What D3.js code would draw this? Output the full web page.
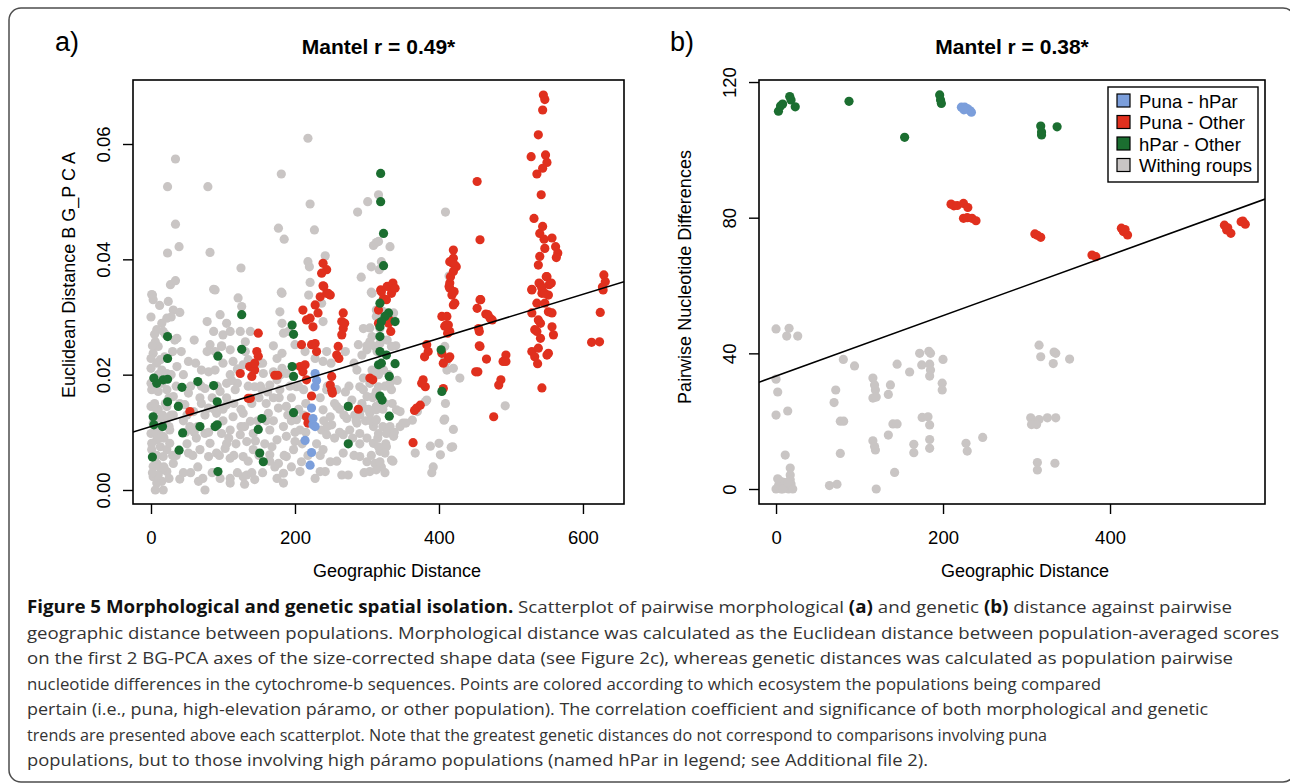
<!DOCTYPE html>
<html>
<head>
<meta charset="utf-8">
<script src="https://cdn.jsdelivr.net/npm/d3@7"></script>
<style>
  body { margin: 0; background: #fff; }
  svg text { font-family: "Liberation Sans", Arial, Helvetica, sans-serif; fill: #000; }
  .caption text { font-family: "Open Sans", sans-serif; font-size: 17px; fill: #333; }
</style>
</head>
<body>
<svg id="fig" width="1290" height="784"></svg>
<script>
// ************************************
// Data
// ************************************

// panel a: [geographic distance, euclidean distance BG-PCA]
let grayA = [
  [2,0.0338],[24,0.0327],[31,0.0312],[40,0.0308],[121,0.0333],[126,0.0318],[182,0.0341],[219,0.0338],[237,0.0324],[307,0.0341],[89,0.0347],
  [15,0.0289],[22,0.0298],[8,0.0278],[17,0.0275],[33,0.0260],[78,0.0292],[96,0.0304],[105,0.0289],[87,0.0275],[100,0.0269],[110,0.0275],
  [124,0.0275],[138,0.0275],[131,0.0257],[182,0.0289],[184,0.0272],[191,0.0275],[179,0.0309],[239,0.0292],[304,0.0281],[313,0.0301],[307,0.0266],
  [3,0.0237],[10,0.0249],[6,0.0257],[36,0.0263],[82,0.0252],[89,0.0240],[98,0.0249],[110,0.0243],[131,0.0240],[114,0.0223],[175,0.0228],
  [182,0.0237],[200,0.0252],[214,0.0240],[228,0.0228],[244,0.0240],[288,0.0252],[293,0.0234],[304,0.0257],[300,0.0243],[311,0.0249],
  [0,0.0211],[15,0.0208],[22,0.0202],[36,0.0214],[52,0.0223],[70,0.0208],[80,0.0205],[89,0.0208],[110,0.0200],[128,0.0217],[135,0.0226],
  [142,0.0208],[151,0.0220],[156,0.0202],[170,0.0205],[182,0.0211],[188,0.0202],[175,0.0191],[239,0.0223],[286,0.0208],[295,0.0194],[307,0.0208],[316,0.0200],
  [1,0.0174],[10,0.0171],[22,0.0174],[31,0.0162],[52,0.0168],[75,0.0176],[96,0.0171],[105,0.0185],[117,0.0174],[144,0.0179],[154,0.0174],
  [165,0.0182],[179,0.0174],[202,0.0179],[212,0.0174],[244,0.0174],[258,0.0174],[295,0.0174],[304,0.0185],[290,0.0179],[313,0.0171],[300,0.0162],[279,0.0156],[309,0.0162],
  [0,0.0145],[8,0.0139],[22,0.0145],[31,0.0130],[47,0.0148],[59,0.0136],[70,0.0150],[80,0.0142],[91,0.0133],[105,0.0148],[114,0.0127],[128,0.0133],
  [138,0.0119],[163,0.0133],[177,0.0142],[188,0.0145],[202,0.0122],[212,0.0130],[239,0.0139],[249,0.0127],[258,0.0145],[272,0.0124],[290,0.0130],[304,0.0133],[313,0.0145],[295,0.0142],
  [0,0.0098],[8,0.0087],[17,0.0093],[26,0.0104],[54,0.0110],[63,0.0090],[75,0.0098],[82,0.0081],[98,0.0098],[110,0.0104],[124,0.0096],[133,0.0084],
  [142,0.0098],[165,0.0104],[175,0.0087],[184,0.0110],[188,0.0093],[200,0.0084],[207,0.0104],[237,0.0104],[244,0.0096],[251,0.0113],[267,0.0096],
  [276,0.0104],[290,0.0098],[300,0.0090],[309,0.0110],[286,0.0116],[309,0.0081],
  [1,0.0070],[8,0.0046],[17,0.0058],[31,0.0046],[52,0.0064],[68,0.0070],[80,0.0058],[91,0.0064],[103,0.0072],[110,0.0055],[128,0.0058],[142,0.0070],
  [165,0.0061],[177,0.0046],[188,0.0058],[198,0.0070],[209,0.0049],[239,0.0070],[249,0.0049],[267,0.0064],[290,0.0058],[300,0.0049],[311,0.0046],[318,0.0067],
  [3,0.0023],[8,0.0012],[15,0.0015],[22,0.0032],[40,0.0019],[66,0.0015],[75,0.0000],[96,0.0020],[110,0.0012],[128,0.0023],[133,0.0026],[144,0.0018],
  [184,0.0029],[184,0.0012],[207,0.0032],[228,0.0020],[235,0.0032],[242,0.0032],[265,0.0026],[274,0.0026],[304,0.0032],
  [3,0.0116],[10,0.0104],[1,0.0081],[13,0.0075],[6,0.0058],[15,0.0035],[3,0.0041],[10,0.0026],[17,0.0000],[6,0.0000],[22,0.0070],[26,0.0081],
  [0,0.0185],[6,0.0191],[15,0.0185],[19,0.0231],[13,0.0226],[0,0.0228],[26,0.0127],[13,0.0124],
  [115,0.0150],[120,0.0185],[125,0.0110],[140,0.0150],[145,0.0085],[150,0.0160],[160,0.0120],[160,0.0150],[168,0.0075],[170,0.0160],[195,0.0120],
  [195,0.0160],[205,0.0140],[215,0.0100],[218,0.0060],[230,0.0080],[235,0.0160],[245,0.0110],[255,0.0090],[262,0.0140],[270,0.0170],[280,0.0090],
  [283,0.0130],[290,0.0080],[298,0.0120],[302,0.0140],[306,0.0060],[312,0.0120],[315,0.0090],[318,0.0150],[320,0.0040],[322,0.0110],[325,0.0180],
  [60,0.0100],[45,0.0120],[50,0.0080],[35,0.0060],[40,0.0150],[70,0.0180],[85,0.0160],[90,0.0110],[100,0.0140],[105,0.0080],[115,0.0060],[65,0.0040],
  [55,0.0030],[120,0.0030],[135,0.0050],[155,0.0030],[165,0.0050],[175,0.0020],[195,0.0040],[200,0.0100],[100,0.0220],[120,0.0210],[60,0.0260],
  [45,0.0200],[30,0.0240],[25,0.0110],[10,0.0140],[5,0.0060],[12,0.0040],[18,0.0090],[28,0.0130],[3,0.0190],[20,0.0150],[10,0.0200],[7,0.0100],
  [0,0.0300],[5,0.0270],[12,0.0320],[2,0.0250],[8,0.0220],[15,0.0190],[20,0.0120],[25,0.0160],[28,0.0200],[5,0.0150],[12,0.0090],[18,0.0040],
  [25,0.0020],[30,0.0060],[2,0.0030],[8,0.0060],[20,0.0270],[28,0.0300],[3,0.0330],[16,0.0130],
  [45,0.0030],[50,0.0130],[55,0.0180],[62,0.0220],[65,0.0110],[72,0.0020],[75,0.0130],[80,0.0100],[85,0.0030],[92,0.0180],[95,0.0060],[100,0.0120],
  [58,0.0060],[78,0.0240],[68,0.0160],[48,0.0100],[88,0.0140],[98,0.0250],[42,0.0240],[35,0.0180],
  [105,0.0160],[112,0.0190],[118,0.0080],[125,0.0140],[130,0.0110],[135,0.0180],[148,0.0120],[152,0.0180],[158,0.0080],[162,0.0170],[170,0.0120],
  [172,0.0040],[178,0.0160],[185,0.0060],[190,0.0130],[193,0.0180],[110,0.0020],[130,0.0010],[150,0.0060],[180,0.0200],[140,0.0030],[155,0.0220],
  [170,0.0250],[108,0.0090],
  [205,0.0180],[210,0.0080],[215,0.0150],[235,0.0060],[240,0.0120],[245,0.0180],[255,0.0150],[258,0.0050],[262,0.0100],[268,0.0130],[275,0.0180],
  [282,0.0060],[285,0.0120],[293,0.0150],[296,0.0030],[305,0.0120],[308,0.0160],[310,0.0200],[314,0.0240],[318,0.0280],[322,0.0140],[326,0.0080],
  [330,0.0200],[335,0.0150],[338,0.0100],[340,0.0250],[300,0.0250],[295,0.0280],[282,0.0220],[270,0.0240],[250,0.0220],[322,0.0310],[328,0.0260],
  [336,0.0050],[342,0.0190],
  [313,0.0312],[337,0.0307],[318,0.0254],[334,0.0249],[313,0.0202],[323,0.0208],[332,0.0185],[334,0.0174],[316,0.0179],[325,0.0150],[313,0.0139],
  [341,0.0139],[350,0.0116],[346,0.0110],[332,0.0110],[316,0.0098],[327,0.0098],[337,0.0093],[316,0.0075],[327,0.0075],[325,0.0064],[334,0.0052],
  [318,0.0049],[325,0.0030],[313,0.0035],[313,0.0122],
  [218,0.0610],[34,0.0574],[23,0.0526],[79,0.0526],[181,0.0548],[221,0.0496],[34,0.0461],[177,0.0454],[185,0.0435],[227,0.0451],[23,0.0411],
  [39,0.0422],[82,0.0412],[125,0.0385],[27,0.0356],[34,0.0363],[87,0.0348],[1,0.0339],[181,0.0343],[218,0.0396],[220,0.0387],[221,0.0360],
  [242,0.0406],[287,0.0482],[301,0.0500],[309,0.0424],[313,0.0429],[306,0.0387],[292,0.0369],[306,0.0343],[316,0.0512],[409,0.0482],[316,0.0431],
  [332,0.0422],[320,0.0396],[317,0.0382],[414,0.0371],
  [408,0.0249],[408,0.0226],[411,0.0208],[420,0.0211],[429,0.0194],[383,0.0156],[370,0.0136],[409,0.0150],[408,0.0123],[420,0.0105],[492,0.0146],
  [388,0.0076],[400,0.0081],[417,0.0074],[402,0.0061],[367,0.0064],[392,0.0040],[390,0.0030],[419,0.0075],[407,0.0121],[410,0.0222],
  [369,0.0139],[381,0.0153],[363,0.0121],[354,0.0116],[346,0.0136]
];
let redA = [
  [149,0.0272],[147,0.0240],[149,0.0232],[137,0.0214],[144,0.0208],[140,0.0197],[124,0.0202],[135,0.0159],[172,0.0199],[176,0.0199],[54,0.0136],
  [209,0.0252],[211,0.0312],[216,0.0295],[228,0.0321],[232,0.0307],[225,0.0283],[221,0.0298],[235,0.0335],[244,0.0341],[249,0.0338],[240,0.0353],
  [228,0.0254],[230,0.0240],[223,0.0252],[207,0.0214],[211,0.0205],[216,0.0191],[214,0.0217],[223,0.0163],[216,0.0127],[218,0.0116],
  [267,0.0307],[265,0.0292],[267,0.0280],[265,0.0269],[269,0.0289],[260,0.0249],[258,0.0234],[261,0.0228],[251,0.0197],[249,0.0182],[251,0.0173],
  [252,0.0168],[288,0.0140],[304,0.0194],[308,0.0191],[316,0.0312],[316,0.0289],[144,0.0220],[138,0.0159],
  [239,0.0393],[244,0.0382],[237,0.0376],[239,0.0354],[246,0.0341],
  [319,0.0347],[328,0.0353],[334,0.0341],[323,0.0332],[331,0.0295],[333,0.0275],[320,0.0344],[327,0.0330],[330,0.0289],[336,0.0359],[339,0.0350],
  [418,0.0338],[420,0.0321],[404,0.0301],[411,0.0301],[408,0.0284],[413,0.0286],[415,0.0275],[383,0.0252],[385,0.0240],[380,0.0231],[413,0.0228],
  [406,0.0220],[378,0.0191],[381,0.0179],[376,0.0185],[374,0.0147],[369,0.0142],[366,0.0138],[364,0.0082],[406,0.0176],[458,0.0330],[453,0.0315],
  [465,0.0305],[471,0.0298],[474,0.0295],[455,0.0280],[456,0.0275],[456,0.0250],[466,0.0227],[454,0.0205],[493,0.0234],[489,0.0223],[493,0.0223],
  [486,0.0191],[483,0.0182],[476,0.0127],[543,0.0177],
  [529,0.0347],[543,0.0341],[552,0.0338],[536,0.0324],[547,0.0324],[529,0.0307],[538,0.0295],[541,0.0289],[552,0.0309],[557,0.0307],[536,0.0275],
  [533,0.0278],[541,0.0263],[557,0.0283],[559,0.0269],[529,0.0240],[538,0.0246],[533,0.0231],[537,0.0219],[552,0.0237],[550,0.0234],
  [624,0.0308],[612,0.0256],[623,0.0257],[628,0.0347],
  [415,0.0231],[410,0.0286],[412,0.0272],[404,0.0237],[415,0.0350],[422,0.0324],[415,0.0359],[457,0.0330],[468,0.0304],[457,0.0249],[451,0.0205],
  [453,0.0535],[457,0.0434],[420,0.0416],[420,0.0402],[419,0.0393],[424,0.0387],[416,0.0370],[415,0.0396],[422,0.0390],[420,0.0379],[414,0.0353],[421,0.0344],
  [545,0.0685],[547,0.0677],[544,0.0659],[538,0.0616],[528,0.0578],[548,0.0581],[550,0.0568],[544,0.0558],[536,0.0548],[542,0.0512],[532,0.0471],
  [544,0.0457],[540,0.0445],[546,0.0435],[547,0.0419],[557,0.0437],[562,0.0422],[565,0.0411],[563,0.0403],[540,0.0405],[538,0.0390],[550,0.0370],
  [541,0.0356],[553,0.0356],[539,0.0359],[543,0.0350],[549,0.0370],[556,0.0359],[529,0.0348],[547,0.0341],
  [629,0.0373],[631,0.0361],[627,0.0352]
];
let greenA = [
  [319,0.0549],[319,0.0500],[323,0.0445],[323,0.0389],
  [318,0.0324],[330,0.0307],[325,0.0301],[320,0.0292],[318,0.0283],[339,0.0292],[318,0.0266],[318,0.0240],[327,0.0234],[316,0.0217],[320,0.0220],
  [339,0.0219],[331,0.0197],[318,0.0163],[321,0.0156],[331,0.0128],[403,0.0243],[404,0.0171],
  [126,0.0304],[23,0.0266],[126,0.0244],[23,0.0228],[93,0.0232],[196,0.0286],[198,0.0270],[196,0.0214],[198,0.0197],[4,0.0194],[17,0.0191],
  [23,0.0192],[8,0.0185],[43,0.0178],[65,0.0188],[87,0.0181],[23,0.0153],[38,0.0145],[92,0.0153],[3,0.0127],[4,0.0113],[16,0.0110],[44,0.0099],
  [68,0.0110],[89,0.0110],[92,0.0113],[154,0.0124],[149,0.0105],[198,0.0134],[39,0.0069],[2,0.0057],[151,0.0064],[156,0.0049],[93,0.0032],
  [274,0.0145],[274,0.0080]
];
let blueA = [
  [228,0.0202],[230,0.0190],[228,0.0179],[223,0.0142],[225,0.0124],[225,0.0113],[228,0.0110],[214,0.0086],[223,0.0065],[221,0.0043]
];

// panel b: [geographic distance, pairwise nucleotide differences]
let grayB = [
  [0,47.2],[15.6,47.4],[12.8,45.1],[26,45.1],[0,32.4],[2,28.6],[0,21.8],[14,23],[11,10],[17,6.2],[17,4.1],[17,2.7],
  [0,0],[3,1],[6,0],[9,2],[12,0.5],[15,0],[18,1.5],[20,0],[4,2.5],[8,0],[2,3],[14,2],
  [64,1],[73,1.4],[120,0],[80.6,38.2],[94,36.3],[71.5,29.2],[69.5,25.5],[77,20],[81,20],[77,10.5],
  [116,32.7],[118,30.7],[119,29.2],[116,26.8],[120,27.1],[137,30.7],[134.5,27.9],[145,36.8],[160,34.5],[172,40],[185,40],[183,40.6],
  [174.5,36.6],[184,36.8],[185,35.1],[184,33.3],[200,38.2],[199,31.2],[199,29.2],[140,19.2],[145,19.2],[134.5,15.9],[116,14.2],[118,12.5],
  [119,11.5],[142,4.9],[175,21.1],[182,21.3],[184,18.9],[184,14.6],[184,12],[165,13.2],[165,10.7],[227.5,13.5],[229,11.2],[247.5,15.2],
  [315,42.4],[317,39],[333,40.4],[335,40],[332,37],[351.6,38.3],[305,21],[310,19.5],[315,20.5],[312,19],[306,19],[325,21],[335,21],
  [313,7.8],[313,5.6],[334,7.6]
];
let redB = [
  [209.6,84],[213,83.5],[217,83.6],[224.5,84.2],[229.7,83],[224.5,79.8],[229,80],[234.7,79.8],[239.5,79.1],[310,75.2],[313,74.8],[317,74.2],
  [378.4,69],[383,68.5],[413.6,76.9],[416,75.9],[421,74.9],[418,76.5],[537,77.8],[539.7,76.4],[544.7,75.4],[541,77],[557,78.8],[562,78.1],[559,79]
];
let greenB = [
  [2.9,111.4],[5.4,112.9],[7.9,113.5],[16.4,115.7],[18,114.7],[23,112.7],[87.4,114.3],[154,103.7],[196,116.2],[197,114.7],[198,113.7],
  [317,107],[318,105.3],[318,104.4],[336.6,106.8]
];
let blueB = [
  [222,112.6],[226,112.6],[229,112.2],[232,111.6],[234,111.1],[225,111.8]
];

// fitted lines [intercept, slope]
let fitA = [0.01101, 0.0000382];
let fitB = [33.3, 0.0891];

let xTicksA = [0, 200, 400, 600],
  yTicksA = [0, 0.02, 0.04, 0.06],
  xTicksB = [0, 200, 400],
  yTicksB = [0, 40, 80, 120];

let legendLabels = ["Puna - hPar", "Puna - Other", "hPar - Other", "Withing roups"];

let captionLines = [
  [["b", "Figure 5 Morphological and genetic spatial isolation."], ["n", " Scatterplot of pairwise morphological "], ["b", "(a)"], ["n", " and genetic "], ["b", "(b)"], ["n", " distance against pairwise"]],
  [["n", "geographic distance between populations. Morphological distance was calculated as the Euclidean distance between population-averaged scores"]],
  [["n", "on the first 2 BG-PCA axes of the size-corrected shape data (see Figure 2c), whereas genetic distances was calculated as population pairwise"]],
  [["n", "nucleotide differences in the cytochrome-b sequences. Points are colored according to which ecosystem the populations being compared"]],
  [["n", "pertain (i.e., puna, high-elevation p\u00e1ramo, or other population). The correlation coefficient and significance of both morphological and genetic"]],
  [["n", "trends are presented above each scatterplot. Note that the greatest genetic distances do not correspond to comparisons involving puna"]],
  [["n", "populations, but to those involving high p\u00e1ramo populations (named hPar in legend; see Additional file 2)."]]
];
// right end of each caption line in the figure
let captionEnds = [1232, 1279, 1233, 1101, 1208, 1047, 928];

let colors = {gray: "#c9c5c4", red: "#e0301e", green: "#1b6e30", blue: "#7b9edb"};

// ************************************
// Drawing
// ************************************

let svg = d3.select("#fig");

// outer rounded frame
svg.append("rect")
  .attr("x", 9).attr("y", 8)
  .attr("width", 1286).attr("height", 774)
  .attr("rx", 12)
  .attr("fill", "none")
  .attr("stroke", "#4d4d4d")
  .attr("stroke-width", 1.5);

drawPanel({
  id: "a", letter: "a)", letterX: 55, title: "Mantel r = 0.49*",
  left: 133, right: 624, top: 80, bottom: 504,
  xDomain: [-25, 657], yDomain: [-0.00243, 0.0711],
  xTicks: xTicksA, yTicks: yTicksA, yFormat: d3.format(".2f"),
  xLabelX: 397, yLabel: "Euclidean Distance B G_P C A", yLabelX: 75, yLabelY: 275,
  series: [[grayA, colors.gray], [redA, colors.red], [greenA, colors.green], [blueA, colors.blue]],
  fit: fitA
});

drawPanel({
  id: "b", letter: "b)", letterX: 670, title: "Mantel r = 0.38*",
  left: 759, right: 1265, top: 80, bottom: 504,
  xDomain: [-20.4, 585.6], yDomain: [-4.42, 120.6],
  xTicks: xTicksB, yTicks: yTicksB, yFormat: d3.format("d"),
  xLabelX: 1025, yLabel: "Pairwise Nucleotide Differences", yLabelX: 691, yLabelY: 277,
  series: [[grayB, colors.gray], [redB, colors.red], [greenB, colors.green], [blueB, colors.blue]],
  fit: fitB
});

drawLegend();
drawCaption();

function drawPanel(cfg) {
  let x = d3.scaleLinear().domain(cfg.xDomain).range([cfg.left, cfg.right]);
  let y = d3.scaleLinear().domain(cfg.yDomain).range([cfg.bottom, cfg.top]);
  let g = svg.append("g").attr("class", "panel-" + cfg.id);

  // clip to plot region, like R does
  svg.append("clipPath").attr("id", "clip-" + cfg.id)
    .append("rect")
    .attr("x", cfg.left).attr("y", cfg.top)
    .attr("width", cfg.right - cfg.left).attr("height", cfg.bottom - cfg.top);

  let plot = g.append("g").attr("clip-path", "url(#clip-" + cfg.id + ")");

  cfg.series.forEach(function(s) {
    plot.append("g").selectAll("circle")
      .data(s[0])
      .enter()
      .append("circle")
      .attr("cx", function(d) { return x(d[0]); })
      .attr("cy", function(d) { return y(d[1]); })
      .attr("r", 4.6)
      .attr("fill", s[1]);
  });

  // regression line
  let x0 = cfg.xDomain[0], x1 = cfg.xDomain[1];
  plot.append("line")
    .attr("x1", x(x0)).attr("y1", y(cfg.fit[0] + cfg.fit[1] * x0))
    .attr("x2", x(x1)).attr("y2", y(cfg.fit[0] + cfg.fit[1] * x1))
    .attr("stroke", "#000")
    .attr("stroke-width", 1.6);

  // box
  g.append("rect")
    .attr("x", cfg.left).attr("y", cfg.top)
    .attr("width", cfg.right - cfg.left).attr("height", cfg.bottom - cfg.top)
    .attr("fill", "none")
    .attr("stroke", "#000")
    .attr("stroke-width", 1.6);

  // x axis
  let xAxis = g.append("g")
    .attr("transform", "translate(0," + cfg.bottom + ")")
    .call(d3.axisBottom(x).tickValues(cfg.xTicks).tickSize(10).tickFormat(d3.format("d")));
  xAxis.select(".domain").remove();
  xAxis.selectAll("line").attr("stroke", "#000").attr("stroke-width", 1.4);
  xAxis.selectAll("text")
    .attr("y", 40).attr("dy", null)
    .attr("font-size", 18.5)
    .attr("font-family", "Liberation Sans, Arial, sans-serif")
    .attr("fill", "#000");

  // y axis
  let yAxis = g.append("g")
    .attr("transform", "translate(" + cfg.left + ",0)")
    .call(d3.axisLeft(y).tickValues(cfg.yTicks).tickSize(10).tickFormat(cfg.yFormat));
  yAxis.select(".domain").remove();
  yAxis.selectAll("line").attr("stroke", "#000").attr("stroke-width", 1.4);
  yAxis.selectAll("text")
    .attr("x", null).attr("dy", null)
    .attr("text-anchor", "middle")
    .attr("transform", "translate(-23,0) rotate(-90)")
    .attr("font-size", 18.5)
    .attr("font-family", "Liberation Sans, Arial, sans-serif")
    .attr("fill", "#000");

  // titles
  g.append("text")
    .attr("x", cfg.letterX).attr("y", 51)
    .attr("font-size", 27)
    .text(cfg.letter);

  g.append("text")
    .attr("x", (cfg.left + cfg.right) / 2).attr("y", 54)
    .attr("text-anchor", "middle")
    .attr("font-size", 21)
    .attr("font-weight", "bold")
    .text(cfg.title);

  g.append("text")
    .attr("x", cfg.xLabelX).attr("y", 577)
    .attr("text-anchor", "middle")
    .attr("font-size", 18)
    .text("Geographic Distance");

  g.append("text")
    .attr("transform", "translate(" + cfg.yLabelX + "," + cfg.yLabelY + ") rotate(-90)")
    .attr("text-anchor", "middle")
    .attr("font-size", 18)
    .text(cfg.yLabel);
}

function drawLegend() {
  let keyColors = [colors.blue, colors.red, colors.green, colors.gray];
  let lg = svg.append("g").attr("class", "legend");
  lg.append("rect")
    .attr("x", 1108).attr("y", 87)
    .attr("width", 150).attr("height", 95)
    .attr("fill", "#fff")
    .attr("stroke", "#000")
    .attr("stroke-width", 1.4);
  let rows = lg.selectAll(".row")
    .data(legendLabels)
    .enter()
    .append("g")
    .attr("class", "row")
    .attr("transform", function(d, i) { return "translate(0," + (101 + i * 21.5) + ")"; });
  rows.append("rect")
    .attr("x", 1117).attr("y", -7)
    .attr("width", 13).attr("height", 13)
    .attr("fill", function(d, i) { return keyColors[i]; })
    .attr("stroke", "#000")
    .attr("stroke-width", 1.2);
  rows.append("text")
    .attr("x", 1139).attr("y", 6.5)
    .attr("font-size", 18.5)
    .text(function(d) { return d; });
}

function drawCaption() {
  let cg = svg.append("g").attr("class", "caption");
  captionLines.forEach(function(parts, i) {
    let t = cg.append("text")
      .attr("x", 27)
      .attr("y", 613 + i * 25.5)
      .attr("textLength", captionEnds[i] - 27)
      .attr("lengthAdjust", "spacingAndGlyphs");
    parts.forEach(function(p) {
      t.append("tspan")
        .attr("font-weight", p[0] === "b" ? "bold" : "normal")
        .attr("fill", p[0] === "b" ? "#111" : "#333")
        .text(p[1]);
    });
  });
}
</script>
</body>
</html>
